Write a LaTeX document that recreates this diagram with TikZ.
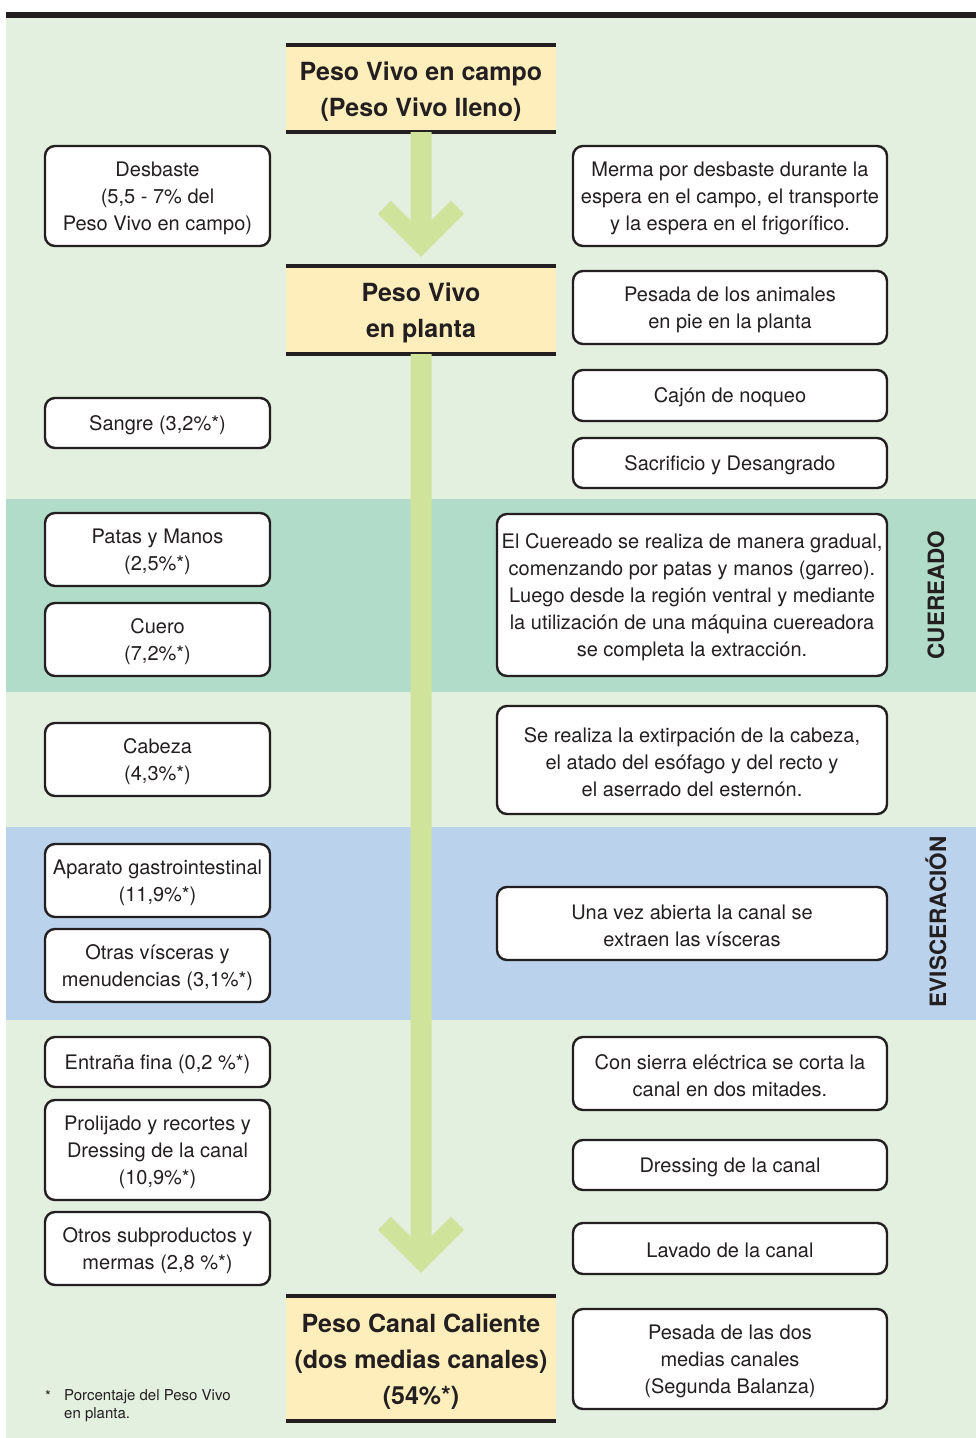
\documentclass[tikz,border=0pt]{standalone}
\usepackage{fontspec}
\setmainfont{TeX Gyre Heros}
\usetikzlibrary{calc}
\definecolor{bgg}{HTML}{E3EFDF}
\definecolor{mint}{HTML}{B2DCCA}
\definecolor{bluebd}{HTML}{BBD2EC}
\definecolor{yel}{HTML}{FEEEBC}
\definecolor{arrg}{HTML}{CFE39B}
\definecolor{ink}{HTML}{231F20}
\newcommand{\chevarrow}[2]{%
  \fill[arrg] ($(#1)+(-10.5,0)$) -- ($(#2)+(-10.5,-36.5)$) -- ($(#2)+(-30,-56)$)
   -- ($(#2)+(-43,-43)$) -- (#2) -- ($(#2)+(43,-43)$) -- ($(#2)+(30,-56)$)
   -- ($(#2)+(10.5,-36.5)$) -- ($(#1)+(10.5,0)$) -- cycle;}
\newcommand{\fstr}{\rule{0pt}{18.5pt}}
\newcommand{\ystr}{\rule{0pt}{24pt}}
\begin{document}
\begin{tikzpicture}[x=1pt,y=-1pt,
  lb/.style={draw=ink, line width=2.4pt, rounded corners=10pt, fill=white,
    align=center, inner sep=0pt, text=ink,
    font=\fontsize{20}{27}\selectfont, minimum width=225pt},
  rb/.style={lb, minimum width=314pt},
  wb/.style={lb, minimum width=390pt},
  yb/.style={fill=yel, align=center, inner sep=0pt, text=ink,
    font=\fontsize{25}{36}\selectfont\bfseries, minimum width=270pt},
  yline/.style={draw=ink, line width=4pt},
  band/.style={font=\fontsize{22.5}{22.5}\selectfont\bfseries, text=ink, rotate=90, inner sep=0pt},
  foot/.style={font=\fontsize{15}{18}\selectfont, text=ink, inner sep=0pt, anchor=base west}]
\useasboundingbox (0,0) rectangle (976,1438);
% backgrounds
\fill[bgg] (6,18) rectangle (976,1438);
\fill[ink] (6,12) rectangle (976,18);
\fill[mint] (6,499) rectangle (976,692);
\fill[bluebd] (6,827) rectangle (976,1020);
% central boxes
\node[yb, minimum height=87pt] (y1) at (421,88.5) {\ystr Peso Vivo en campo\\(Peso Vivo lleno)};
\node[yb, minimum height=88pt] (y2) at (421,310) {\ystr Peso Vivo\\en planta};
\node[yb, minimum height=125pt] (y3) at (421,1358.5) {\ystr Peso Canal Caliente\\(dos medias canales)\\(54\%*)};
\foreach \n in {y1,y2,y3}{
  \draw[yline] (\n.north west) -- (\n.north east);
  \draw[yline] (\n.south west) -- (\n.south east);}
% arrows
\coordinate (t1) at ($(y2.north)+(0,-9)$);
\coordinate (t2) at ($(y3.north)+(0,-23)$);
\chevarrow{y1.south}{t1}
\chevarrow{y2.south}{t2}
% left boxes
\node[lb, minimum height=100pt] (l1) at (157.5,196) {\fstr Desbaste\\(5,5 - 7\% del\\Peso Vivo en campo)};
\node[lb, minimum height=50pt] (l2) at (157.5,423) {\fstr Sangre (3,2\%*)};
\node[lb, minimum height=73pt] (l3) at (157.5,549.5) {\fstr Patas y Manos\\(2,5\%*)};
\node[lb, minimum height=73pt] (l4) at (157.5,639.5) {\fstr Cuero\\(7,2\%*)};
\node[lb, minimum height=73pt] (l5) at (157.5,759.5) {\fstr Cabeza\\(4,3\%*)};
\node[lb, minimum height=73pt] (l6) at (157.5,880.5) {\fstr Aparato gastrointestinal\\(11,9\%*)};
\node[lb, minimum height=73pt] (l7) at (157.5,965.5) {\fstr Otras vísceras y\\menudencias (3,1\%*)};
\node[lb, minimum height=50pt] (l8) at (157.5,1062) {\fstr Entraña fina (0,2 \%*)};
\node[lb, minimum height=100pt] (l9) at (157.5,1150) {\fstr Prolijado y recortes y\\Dressing de la canal\\(10,9\%*)};
\node[lb, minimum height=73pt] (l10) at (157.5,1248.5) {\fstr Otros subproductos y\\mermas (2,8 \%*)};
% right boxes
\node[rb, minimum height=100pt] (r1) at (730,196) {\fstr Merma por desbaste durante la\\espera en el campo, el transporte\\y la espera en el frigorífico.};
\node[rb, minimum height=73pt] (r2) at (730,307.5) {\fstr Pesada de los animales\\en pie en la planta};
\node[rb, minimum height=51pt] (r3) at (730,395.5) {\fstr Cajón de noqueo};
\node[rb, minimum height=50pt] (r4) at (730,463) {\fstr Sacrificio y Desangrado};
\node[wb, minimum height=162pt] (r5) at (692,595) {\fstr El Cuereado se realiza de manera gradual,\\comenzando por patas y manos (garreo).\\Luego desde la región ventral y mediante\\la utilización de una máquina cuereadora\\se completa la extracción.};
\node[wb, minimum height=108pt] (r6) at (692,760) {\fstr Se realiza la extirpación de la cabeza,\\el atado del esófago y del recto y\\el aserrado del esternón.};
\node[wb, minimum height=73pt] (r7) at (692,923.5) {\fstr Una vez abierta la canal se\\extraen las vísceras};
\node[rb, minimum height=73pt] (r8) at (730,1073.5) {\fstr Con sierra eléctrica se corta la\\canal en dos mitades.};
\node[rb, minimum height=50pt] (r9) at (730,1165) {\fstr Dressing de la canal};
\node[rb, minimum height=51pt] (r10) at (730,1248.5) {\fstr Lavado de la canal};
\node[rb, minimum height=100pt] (r11) at (730,1359) {\fstr Pesada de las dos\\medias canales\\(Segunda Balanza)};
% band labels
\node[band] (bc) at (936,595) {CUEREADO};
\node[band] (be) at (936,922) {EVISCERACIÓN};
% footnote
\node[foot] (fa) at (45,1401) {*};
\node[foot] (fb) at (64,1400) {Porcentaje del Peso Vivo};
\node[foot] (fc) at (64,1418) {en planta.};
\end{tikzpicture}
\end{document}
